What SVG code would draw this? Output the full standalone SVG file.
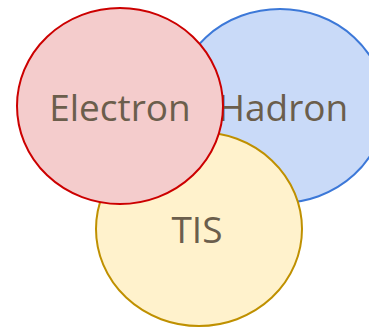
<svg xmlns="http://www.w3.org/2000/svg" width="369" height="327" viewBox="0 0 369 327">
  <style>
    .set { stroke-width: 2; }
    .label { font-family: "Open Sans", "Liberation Sans", sans-serif; font-size: 37px; fill: #6b5e4c; text-anchor: middle; }
  </style>
  <rect width="369" height="327" fill="#ffffff"/>
  <g id="hadron">
    <ellipse class="set" cx="280" cy="106" rx="105" ry="97" fill="#c9daf8" stroke="#3c78d8"/>
    <text class="label" x="283" y="121">Hadron</text>
  </g>
  <g id="tis">
    <ellipse class="set" cx="199" cy="229" rx="103" ry="97" fill="#fff2cc" stroke="#bf9000"/>
    <text class="label" x="197" y="243">TIS</text>
  </g>
  <g id="electron">
    <ellipse class="set" cx="120" cy="106" rx="103" ry="98" fill="#f4cccc" stroke="#cc0000"/>
    <text class="label" x="120" y="121">Electron</text>
  </g>
  <g id="connectors"></g>
</svg>
